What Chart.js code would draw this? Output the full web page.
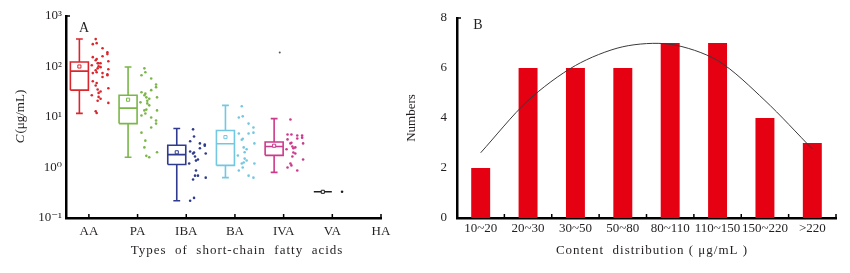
<!DOCTYPE html>
<html>
<head>
<meta charset="utf-8">
<script src="https://cdn.jsdelivr.net/npm/chart.js@4.4.0/dist/chart.umd.min.js"></script>
<style>
  html, body { margin: 0; padding: 0; background: #fff; }
  #wrap { position: relative; width: 850px; height: 273px; }
  #ca { position: absolute; left: 0; top: 0; }
  #cb { position: absolute; left: 400px; top: 0; }
</style>
</head>
<body>
<div id="wrap">
  <canvas id="ca" width="400" height="273"></canvas>
  <canvas id="cb" width="450" height="273"></canvas>
</div>
<script>
// ---- panel A: concentration of each acid (ug/mL), box stats
const acids = ['AA', 'PA', 'IBA', 'BA', 'IVA', 'VA', 'HA'];
const whiskerHigh = [350, 98, 5.9, 17, 9.3, 0.33, null];
const q3 = [123, 27, 2.75, 5.4, 3.2, 0.33, null];
const median = [81, 15, 1.8, 2.95, 2.6, 0.33, null];
const q1 = [34, 7.4, 1.15, 1.1, 1.74, 0.33, null];
const whiskerLow = [11.8, 1.6, 0.22, 0.63, 0.8, 0.33, null];
const means = [100, 22, 2.0, 4.0, 2.7, 0.33, null];

// individual samples next to each box
const samplesAA = [349, 290, 277, 230, 192, 176, 160, 153, 140, 133, 127, 116, 116, 116, 106, 101, 97, 92, 88, 84, 77, 74, 74, 70, 67, 62, 51, 47, 42, 37, 35, 32, 30, 27, 25, 23, 21, 19, 13, 12];
const samplesPA = [92, 77, 67, 58, 44, 39, 34, 31, 29, 27, 24.5, 24.5, 23, 21, 19.5, 18.6, 17, 14, 13.5, 13.5, 11.7, 10.7, 9.8, 8.5, 7.4, 6.2, 4.9, 3.4, 2.5, 2.0, 1.7, 1.6];
const samplesIBA = [5.7, 4.1, 3.3, 3.0, 2.85, 2.7, 2.4, 2.07, 1.98, 1.89, 1.89, 1.65, 1.44, 1.37, 1.2, 0.87, 0.69, 0.69, 0.63, 0.58, 0.25, 0.22];
const samplesBA = [16.3, 10.3, 9.8, 7.4, 6.2, 4.9, 4.7, 4.7, 3.7, 3.55, 3.0, 2.5, 2.3, 2.0, 1.73, 1.5, 1.38, 1.26, 1.2, 1.2, 1.0, 0.87, 0.69, 0.63];
const samplesIVA = [8.9, 4.5, 4.5, 4.3, 4.3, 3.9, 3.75, 3.6, 3.1, 3.0, 3.0, 2.6, 2.5, 2.4, 2.3, 1.98, 1.89, 1.65, 1.44, 1.2, 1.1, 1.0, 0.87];
const samplesVA = [0.33];
const outlierIVA = [190];

const decades = [0.1, 1, 10, 100, 1000];
const decadeLabels = ['10\u207B\u00B9', '10\u2070', '10\u00B9', '10\u00B2', '10\u00B3'];

// ---- panel B: distribution of total content
const bins = ['10~20', '20~30', '30~50', '50~80', '80~110', '110~150', '150~220', '>220'];
const counts = [2, 6, 6, 6, 7, 7, 4, 3];
const fitCurve = [2.61, 4.7, 6.1, 6.85, 6.95, 6.3, 4.7, 2.76];

const colors = ['#d9272e', '#7ab648', '#2e3b8f', '#74c7e0', '#cc3a8c', '#231f20', '#231f20'];
const samples = [samplesAA, samplesPA, samplesIBA, samplesBA, samplesIVA, samplesVA, []];
const serif = '"Liberation Serif", "DejaVu Serif", serif';

// box outline + median + whiskers, as one broken line per acid
function boxLine(i) {
  const c = i + 1, l = c - 0.38, r = c - 0.01, m = (l + r) / 2, cw = 0.07;
  const gap = {x: c, y: null};
  return [
    {x: l, y: q1[i]}, {x: r, y: q1[i]}, {x: r, y: q3[i]}, {x: l, y: q3[i]}, {x: l, y: q1[i]}, gap,
    {x: l, y: median[i]}, {x: r, y: median[i]}, gap,
    {x: m, y: q3[i]}, {x: m, y: whiskerHigh[i]}, gap,
    {x: m - cw, y: whiskerHigh[i]}, {x: m + cw, y: whiskerHigh[i]}, gap,
    {x: m, y: q1[i]}, {x: m, y: whiskerLow[i]}, gap,
    {x: m - cw, y: whiskerLow[i]}, {x: m + cw, y: whiskerLow[i]}
  ];
}

// spread the dots sideways to the right of the tick (fixed, irregular pattern)
function spread(j) {
  return 0.04 + ((j * j * 7 + j * 13 + 5) % 19) / 18 * 0.36;
}

const dsA = [];
acids.forEach((name, i) => {
  if (q1[i] == null) return;
  dsA.push({
    data: [{x: i + 1 - 0.195, y: means[i]}],
    pointStyle: 'rect', pointRadius: 2.2, pointBorderWidth: 1,
    pointBorderColor: colors[i], pointBackgroundColor: '#fff'
  });
  dsA.push({
    data: boxLine(i), showLine: true, spanGaps: false,
    borderColor: colors[i], borderWidth: 1.6, pointRadius: 0,
    borderJoinStyle: 'miter', tension: 0
  });
  dsA.push({
    data: samples[i].map((v, j) => ({x: i + 1 + (i === 5 ? 0.2 : spread(j)), y: v})),
    pointRadius: 1.3, pointBorderWidth: 0, pointBackgroundColor: colors[i]
  });
});
dsA.push({
  data: outlierIVA.map(v => ({x: 5 - 0.08, y: v})),
  pointRadius: 1, pointBorderWidth: 0, pointBackgroundColor: '#555'
});

function spacedText(ctx, text, cx, cy) {
  ctx.letterSpacing = '1px';
  const w = ctx.measureText(text).width;
  ctx.textAlign = 'left';
  ctx.fillText(text, cx - w / 2, cy);
  ctx.letterSpacing = '0px';
}

const panelA = {
  id: 'panelA',
  afterDraw(chart) {
    const {ctx, chartArea: a, scales: {x}} = chart;
    ctx.save();
    ctx.strokeStyle = '#000';
    ctx.lineWidth = 1.5;
    ctx.beginPath();
    x.ticks.forEach(t => {
      const px = x.getPixelForValue(t.value);
      ctx.moveTo(px, a.bottom);
      ctx.lineTo(px, a.bottom - 4);
    });
    ctx.moveTo(a.left, a.top);
    ctx.lineTo(a.left + 4, a.top);
    ctx.stroke();

    ctx.fillStyle = '#231f20';
    ctx.textBaseline = 'middle';
    ctx.textAlign = 'center';
    ctx.font = '14px ' + serif;
    ctx.fillText('A', 84, 28);
    ctx.font = '13px ' + serif;
    spacedText(ctx, 'Types  of  short-chain  fatty  acids', 237, 251);

    ctx.translate(21, (a.top + a.bottom) / 2);
    ctx.rotate(-Math.PI / 2);
    const f1 = 'italic 13px ' + serif, f2 = '13px ' + serif;
    ctx.font = f1; const w1 = ctx.measureText('C').width;
    ctx.font = f2; const w2 = ctx.measureText('(\u03BCg/mL)').width;
    const sx = -(w1 + w2) / 2;
    ctx.textAlign = 'left';
    ctx.font = f1; ctx.fillText('C', sx, 0);
    ctx.font = f2; ctx.fillText('(\u03BCg/mL)', sx + w1 + 1, 0);
    ctx.restore();
  }
};

new Chart(document.getElementById('ca'), {
  type: 'scatter',
  data: {datasets: dsA},
  options: {
    responsive: false,
    animation: false,
    events: [],
    layout: {padding: {left: 0, right: 19, top: 16, bottom: 0}},
    plugins: {legend: {display: false}, tooltip: {enabled: false}},
    scales: {
      x: {
        type: 'linear', min: 0.53, max: 7,
        afterBuildTicks: s => { s.ticks = acids.map((n, i) => ({value: i + 1})); },
        afterFit: s => { s.height = 55; },
        ticks: {
          callback: v => acids[v - 1],
          font: {family: serif, size: 13}, color: '#231f20', padding: 6, maxRotation: 0
        },
        grid: {display: false, drawTicks: false},
        border: {display: true, color: '#000', width: 2.5}
      },
      y: {
        type: 'logarithmic', min: 0.1, max: 1000,
        afterBuildTicks: s => { s.ticks = decades.map(v => ({value: v})); },
        afterFit: s => { s.width = 66; },
        ticks: {
          callback: v => decadeLabels[decades.indexOf(v)],
          font: {family: serif, size: 13}, color: '#231f20', padding: 4
        },
        grid: {display: false, drawTicks: false},
        border: {display: true, color: '#000', width: 2.5}
      }
    }
  },
  plugins: [panelA]
});

const panelB = {
  id: 'panelB',
  afterDraw(chart) {
    const {ctx, chartArea: a, scales: {x}} = chart;
    ctx.save();
    ctx.strokeStyle = '#000';
    ctx.lineWidth = 1.5;
    ctx.beginPath();
    for (let i = 0; i < bins.length; i++) {
      const px = i < bins.length - 1
        ? (x.getPixelForValue(i) + x.getPixelForValue(i + 1)) / 2
        : a.right;
      ctx.moveTo(px, a.bottom);
      ctx.lineTo(px, a.bottom - 4);
    }
    ctx.moveTo(a.left, a.top);
    ctx.lineTo(a.left + 4, a.top);
    ctx.stroke();
    ctx.fillStyle = '#231f20';
    ctx.textBaseline = 'middle';
    ctx.textAlign = 'center';
    ctx.font = '14px ' + serif;
    ctx.fillText('B', 78, 25);
    ctx.font = '13px ' + serif;
    spacedText(ctx, 'Content  distribution ( \u03BCg/mL )', 252, 251);
    ctx.restore();
  }
};

new Chart(document.getElementById('cb'), {
  type: 'bar',
  data: {
    labels: bins,
    datasets: [
      {
        type: 'line', data: fitCurve, order: 0,
        borderColor: '#3a3a3a', borderWidth: 1, pointRadius: 0,
        tension: 0.3, fill: false
      },
      {
        data: counts, order: 1,
        backgroundColor: '#e50012', borderWidth: 0,
        barPercentage: 0.4, categoryPercentage: 1
      }
    ]
  },
  options: {
    responsive: false,
    animation: false,
    events: [],
    layout: {padding: {left: 0, right: 14, top: 18, bottom: 0}},
    plugins: {legend: {display: false}, tooltip: {enabled: false}},
    scales: {
      x: {
        afterFit: s => { s.height = 55; },
        ticks: {font: {family: serif, size: 13}, color: '#231f20', padding: 3, maxRotation: 0, autoSkip: false},
        grid: {display: false, drawTicks: false},
        border: {display: true, color: '#000', width: 2.5}
      },
      y: {
        min: 0, max: 8,
        afterFit: s => { s.width = 57; },
        ticks: {stepSize: 2, font: {family: serif, size: 13}, color: '#231f20', padding: 10},
        grid: {display: false, drawTicks: false},
        border: {display: true, color: '#000', width: 2.5},
        title: {
          display: true, text: 'Numbers',
          font: {family: serif, size: 13}, color: '#231f20', padding: {top: 4}
        }
      }
    }
  },
  plugins: [panelB]
});
</script>
</body>
</html>
